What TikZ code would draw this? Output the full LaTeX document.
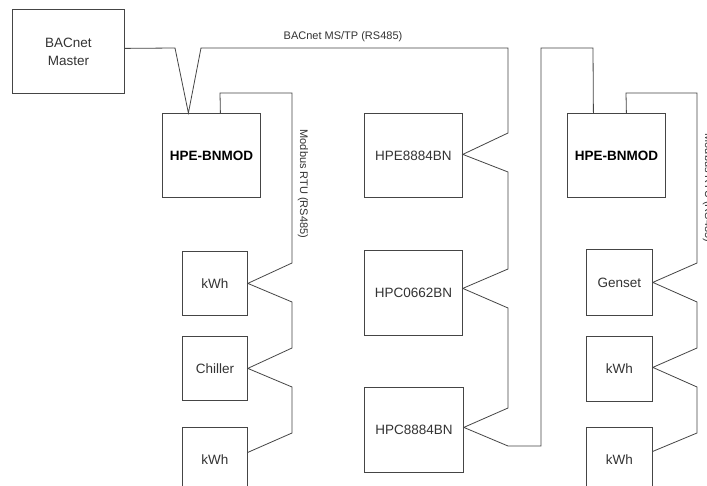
\documentclass[tikz,border=0pt]{standalone}
\usepackage{fontspec}
\setmainfont{Liberation Sans}
\definecolor{linegray}{HTML}{454545}
\definecolor{textgray}{HTML}{333333}
\begin{document}
\begin{tikzpicture}[x=1pt,y=-1pt,
  box/.style={draw=linegray, line width=0.8pt, rectangle, inner sep=0pt, anchor=north west,
    text=textgray, font=\fontsize{13.5}{18}\selectfont, align=center},
  boldbox/.style={box, text=black, font=\fontsize{13.5}{18}\selectfont\bfseries},
  wire/.style={draw=linegray, line width=0.8pt, line join=miter},
  lbl/.style={text=textgray, font=\fontsize{11}{13}\selectfont, inner sep=0pt}]
\useasboundingbox (0,0) rectangle (707,486);
\clip (0,0) rectangle (707,486);
\fill[white] (0,0) rectangle (707,486);

% boxes
\node[box, minimum width=112pt, minimum height=84pt] (master) at (12,9) {BACnet\\Master};
\node[boldbox, minimum width=98pt, minimum height=84pt] (bn1) at (162,113) {HPE-BNMOD};
\node[box, minimum width=65pt, minimum height=64pt] (kwh1) at (182,251) {kWh};
\node[box, minimum width=65pt, minimum height=64pt] (chiller) at (182,336) {Chiller};
\node[box, minimum width=65pt, minimum height=64pt] (kwhl3) at (182,427) {kWh};

\node[box, minimum width=98pt, minimum height=84pt] (hpe8884) at (364,113) {HPE8884BN};
\node[box, minimum width=98pt, minimum height=85pt] (hpc0662) at (364,250) {HPC0662BN};
\node[box, minimum width=99pt, minimum height=85pt] (hpc8884) at (364,387) {HPC8884BN};

\node[boldbox, minimum width=98pt, minimum height=84pt] (bn2) at (567,113) {HPE-BNMOD};
\node[box, minimum width=66pt, minimum height=66pt] (genset) at (586,249) {Genset};
\node[box, minimum width=66pt, minimum height=65pt] (kwhr2) at (586,336) {kWh};
\node[box, minimum width=66pt, minimum height=64pt] (kwhr3) at (586,427) {kWh};

% BACnet MS/TP bus
\draw[wire] ([yshift=3pt]master.east) -- (175,48) -- ([xshift=-23pt]bn1.north)
  -- (201,48) -- (508,48) -- (508,133) -- ([yshift=1pt]hpe8884.east) -- (508,172)
  -- (508,269) -- ([yshift=4.5pt]hpc0662.east) -- (508,308)
  -- (508,408) -- ([yshift=2.5pt]hpc8884.east) -- (508,446) -- (541,446)
  -- (541,48) -- (593,48) -- ([xshift=-23pt]bn2.north);
\node[lbl] (buslbl) at (343,37) {BACnet MS/TP (RS485)};

% Left Modbus
\draw[wire] ([xshift=9pt]bn1.north) -- (220,93) -- (292,93) -- (292,263)
  -- (kwh1.east) -- (292,302) -- (292,348) -- (chiller.east) -- (292,387)
  -- (292,433) -- ([yshift=7pt]kwhl3.east);
\node[lbl, rotate=-90] (mbl) at (303,184) {Modbus RTU (RS485)};

% Right Modbus
\draw[wire] ([xshift=10pt]bn2.north) -- (626,93) -- (697,93) -- (697,263)
  -- (genset.east) -- (697,302) -- (697,348) -- ([yshift=1.5pt]kwhr2.east) -- (697,387)
  -- (697,433) -- ([yshift=8pt]kwhr3.east);
\node[lbl, rotate=-90] (mbr) at (708,188) {Modbus RTU (RS485)};
\end{tikzpicture}
\end{document}
